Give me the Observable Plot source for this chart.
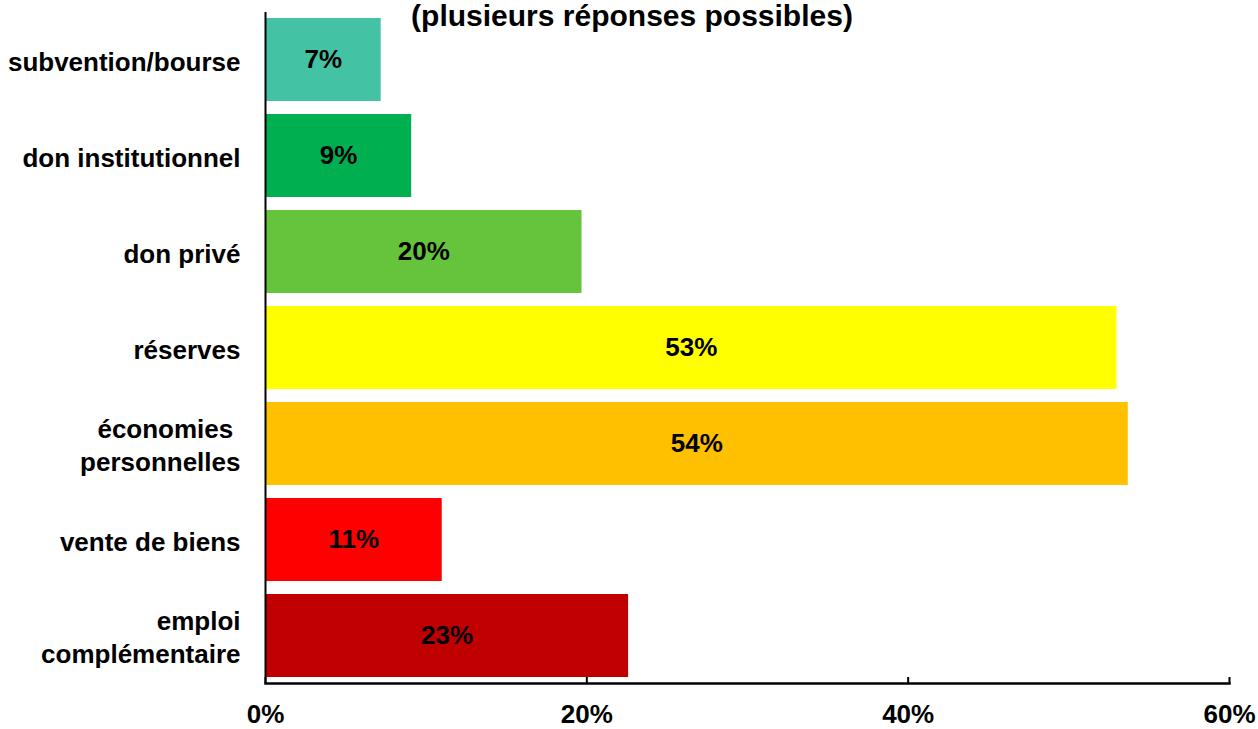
<!DOCTYPE html>
<html>
<head>
<meta charset="utf-8">
<script src="https://cdn.jsdelivr.net/npm/d3@7"></script>
<script src="https://cdn.jsdelivr.net/npm/@observablehq/plot@0.6"></script>
<style>
  html, body { margin: 0; padding: 0; background: #fff; }
  #wrap { position: relative; width: 1258px; height: 729px; overflow: hidden; font-family: "Liberation Sans", Arial, sans-serif; }
  #title { position: absolute; left: 0; width: 1264px; top: 1px; text-align: center; font-size: 30px; font-weight: 700; color: #000; line-height: 30px; z-index: 2; white-space: nowrap; }
</style>
</head>
<body>
<div id="wrap">
  <div id="title">(plusieurs réponses possibles)</div>
  <div id="chart"></div>
</div>
<script>
const categories = ["subvention/bourse", "don institutionnel", "don privé", "réserves", "économies\u00a0\npersonnelles", "vente de biens", "emploi\ncomplémentaire"];
const values = [7.2, 9.1, 19.7, 53.0, 53.7, 11.0, 22.6];
const valueLabels = ["7%", "9%", "20%", "53%", "54%", "11%", "23%"];
const colors = ["#44C3A4", "#00B050", "#66C33C", "#FFFF00", "#FFC000", "#FF0000", "#C00000"];
const xTicks = [0, 20, 40, 60];

const data = categories.map((c, i) => ({category: c, value: values[i], label: valueLabels[i], color: colors[i]}));

const font = "'Liberation Sans', Arial, sans-serif";
const chart = Plot.plot({
  width: 1258,
  height: 729,
  marginTop: 12,
  marginBottom: 46,
  marginLeft: 265,
  marginRight: 29,
  style: {fontFamily: font, fontSize: "26px", fontWeight: 700, color: "#000", background: "#fff"},
  x: {domain: [0, 60], ticks: xTicks},
  y: {domain: categories, paddingInner: 0.137, paddingOuter: 0.057},
  marks: [
    Plot.barX(data, {y: "category", x: "value", fill: "color"}),
    Plot.text(data, {y: "category", x: d => d.value / 2, text: "label", fontSize: 26, fontWeight: 700, fill: "#000"}),
    Plot.ruleX([0], {stroke: "#000", strokeWidth: 2}),
    Plot.frame({anchor: "bottom", stroke: "#000", strokeWidth: 2.5}),
    Plot.ruleX(xTicks, {x: d => d, insetTop: 665, stroke: "#000", strokeWidth: 2}),
    Plot.axisX({ticks: xTicks, tickSize: 0, tickPadding: 21, tickFormat: d => d + "%", fontSize: 26, fontWeight: 700, label: null}),
    Plot.axisY({tickSize: 0, tickPadding: 25, fontSize: 26, fontWeight: 700, label: null, lineHeight: 1.27})
  ]
});
document.getElementById("chart").appendChild(chart);
</script>
</body>
</html>
